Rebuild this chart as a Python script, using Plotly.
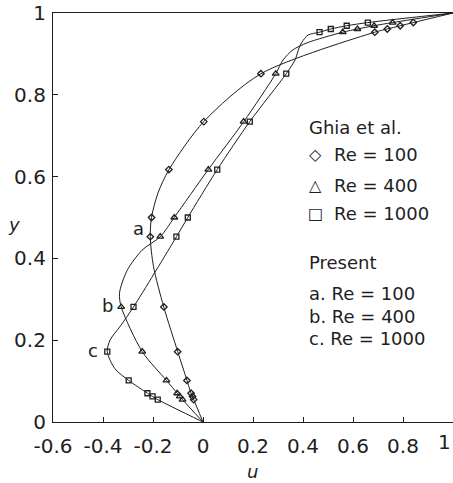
import plotly.graph_objects as go

# Ghia et al. benchmark: u along the vertical centreline
ghia_y = [0.0547, 0.0625, 0.0703, 0.1016, 0.1719, 0.2813, 0.4531, 0.5000,
          0.6172, 0.7344, 0.8516, 0.9531, 0.9609, 0.9688, 0.9766]
ghia_u_re100 = [-0.03717, -0.04192, -0.04775, -0.06434, -0.10150, -0.15662, -0.21090, -0.20581,
                -0.13641, 0.00332, 0.23151, 0.68717, 0.73722, 0.78871, 0.84123]
ghia_u_re400 = [-0.08186, -0.09266, -0.10338, -0.14612, -0.24299, -0.32726, -0.17119, -0.11477,
                0.02135, 0.16256, 0.29093, 0.55892, 0.61756, 0.68439, 0.75837]
ghia_u_re1000 = [-0.18109, -0.20196, -0.22220, -0.29730, -0.38289, -0.27805, -0.10648, -0.06080,
                 0.05702, 0.18719, 0.33304, 0.46604, 0.51117, 0.57492, 0.65928]

# Present computations (profiles a, b, c)
a_y = [0, 0.0547, 0.0625, 0.0703, 0.1016, 0.1719, 0.2813, 0.38, 0.4531, 0.5, 0.56,
       0.6172, 0.7344, 0.8516, 0.9531, 0.9609, 0.9688, 0.9766, 1]
a_u = [0, -0.037, -0.042, -0.048, -0.064, -0.101, -0.157, -0.198, -0.211, -0.206, -0.18,
       -0.136, 0.003, 0.232, 0.687, 0.737, 0.789, 0.841, 1]

b_y = [0, 0.0547, 0.0625, 0.0703, 0.1016, 0.1719, 0.2813, 0.315, 0.37, 0.42, 0.4531, 0.5,
       0.6172, 0.7344, 0.8516, 0.885, 0.91, 0.927, 0.9531, 0.9609, 0.9688, 0.9766, 1]
b_u = [0, -0.082, -0.093, -0.103, -0.146, -0.243, -0.327, -0.334, -0.304, -0.244, -0.171, -0.115,
       0.021, 0.163, 0.291, 0.32, 0.36, 0.416, 0.559, 0.618, 0.684, 0.758, 1]

c_y = [0, 0.0547, 0.0625, 0.0703, 0.1016, 0.13, 0.1719, 0.2, 0.235, 0.2813, 0.4531, 0.5,
       0.6172, 0.7344, 0.8516, 0.885, 0.914, 0.929, 0.946, 0.9531, 0.9609, 0.9688, 0.9766, 1]
c_u = [0, -0.181, -0.202, -0.222, -0.297, -0.352, -0.383, -0.372, -0.33, -0.278, -0.106, -0.061,
       0.057, 0.187, 0.333, 0.368, 0.384, 0.396, 0.42, 0.466, 0.511, 0.575, 0.659, 1]

x_ticks = [-0.6, -0.4, -0.2, 0, 0.2, 0.4, 0.6, 0.8, 1]
x_tick_text = ["-0.6", "-0.4", "-0.2", "0", "0.2", "0.4", "0.6", "0.8", "1"]
y_ticks = [0, 0.2, 0.4, 0.6, 0.8, 1]
y_tick_text = ["0", "0.2", "0.4", "0.6", "0.8", "1"]

INK = "#1e1e1e"
FONT = "DejaVu Sans"

fig = go.Figure()

for uu, yy in [(a_u, a_y), (b_u, b_y), (c_u, c_y)]:
    fig.add_trace(go.Scatter(x=uu, y=yy, mode="lines",
                             line=dict(color=INK, width=1, shape="spline", smoothing=0.8),
                             showlegend=False, hoverinfo="skip"))

for uu, sym, sz in [(ghia_u_re100, "diamond-open", 5),
                    (ghia_u_re400, "triangle-up-open", 6),
                    (ghia_u_re1000, "square-open", 5)]:
    fig.add_trace(go.Scatter(x=uu, y=ghia_y, mode="markers",
                             marker=dict(symbol=sym, size=sz, color=INK,
                                         line=dict(color=INK, width=1.3)),
                             showlegend=False))

ann = []
def label(x, y, text, size=18, xanchor="left", ref="x", italic=False):
    ann.append(dict(x=x, y=y, xref=ref, yref="y" if ref == "x" else "paper",
                    text=text, showarrow=False, xanchor=xanchor, yanchor="middle",
                    font=dict(family=FONT, size=size, color=INK,
                              style="italic" if italic else "normal")))

# curve labels
label(-0.26, 0.474, "a", 18, "center")
label(-0.384, 0.286, "b", 18, "center")
label(-0.44, 0.176, "c", 18, "center")

# key
label(0.416, 0.721, "Ghia et al.")
label(0.448, 0.653, "◇", 16, "center")
label(0.516, 0.653, "Re = 100")
label(0.448, 0.579, "△", 16, "center")
label(0.516, 0.579, "Re = 400")
label(0.448, 0.509, "□", 16, "center")
label(0.516, 0.509, "Re = 1000")
label(0.416, 0.389, "Present")
label(0.416, 0.313, "a. Re = 100")
label(0.416, 0.259, "b. Re = 400")
label(0.416, 0.205, "c. Re = 1000")

# last x tick label, right-aligned so it stays on the page
ann.append(dict(x=1.0, y=-0.05, xref="x", yref="paper", text=x_tick_text[-1],
                showarrow=False, xanchor="right", yanchor="middle",
                font=dict(family=FONT, size=20, color=INK)))

# axis titles
label(-0.0975, 0.484, "y", 18, "center", ref="paper", italic=True)
label(0.4975, -0.12, "u", 18, "center", ref="paper", italic=True)

fig.update_layout(
    width=453, height=483,
    margin=dict(l=53, r=0, t=13, b=61),
    paper_bgcolor="white", plot_bgcolor="white",
    annotations=ann,
    xaxis=dict(range=[-0.6, 1.0], tickvals=x_ticks, ticktext=x_tick_text,
               ticks="inside", ticklen=5, tickcolor=INK, showgrid=False, zeroline=False,
               showline=True, linecolor=INK, linewidth=1.2, mirror=True,
               tickfont=dict(family=FONT, size=20, color=INK), ticklabelstandoff=6),
    yaxis=dict(range=[0, 1.0], tickvals=y_ticks, ticktext=y_tick_text,
               ticks="inside", ticklen=5, tickcolor=INK, showgrid=False, zeroline=False,
               showline=True, linecolor=INK, linewidth=1.2,
               tickfont=dict(family=FONT, size=20, color=INK), ticklabelstandoff=2),
)

fig.write_html("out.html")
